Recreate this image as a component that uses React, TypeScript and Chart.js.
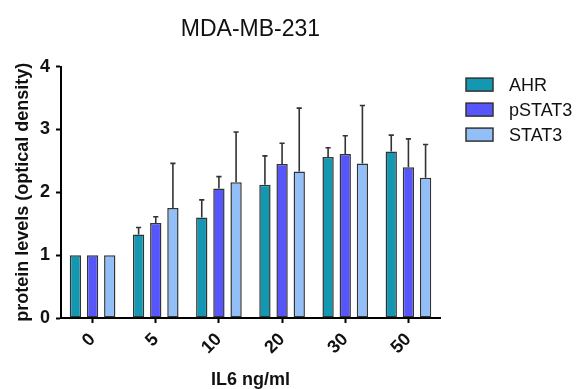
import { useEffect, useRef } from "react";
import { Chart, registerables } from "chart.js";

Chart.register(...registerables);

const categories = ["0", "5", "10", "20", "30", "50"];
const seriesNames = ["AHR", "pSTAT3", "STAT3"];
const ahrValues = [1.0, 1.33, 1.6, 2.12, 2.56, 2.65];
const ahrErrors = [0, 0.11, 0.28, 0.46, 0.15, 0.26];
const pstat3Values = [1.0, 1.51, 2.06, 2.45, 2.61, 2.4];
const pstat3Errors = [0, 0.1, 0.19, 0.33, 0.29, 0.45];
const stat3Values = [1.0, 1.75, 2.16, 2.33, 2.46, 2.23];
const stat3Errors = [0, 0.71, 0.8, 1.01, 0.92, 0.53];
const yTicks = [0, 1, 2, 3, 4];
const colors = ["#1497B1", "#5656FA", "#92BFF7"];

const FONT = "'Liberation Sans', Arial, sans-serif";

const errorBarPlugin = {
  id: "errorBars",
  afterDatasetsDraw(chart: any) {
    const ctx = chart.ctx;
    const yScale = chart.scales.y;
    chart.data.datasets.forEach((ds: any, i: number) => {
      const meta = chart.getDatasetMeta(i);
      meta.data.forEach((bar: any, j: number) => {
        const e = ds.errors[j];
        if (!e) return;
        const v = ds.data[j];
        const yTop = yScale.getPixelForValue(v);
        const yErr = yScale.getPixelForValue(v + e);
        ctx.save();
        ctx.strokeStyle = "#333";
        ctx.lineWidth = 1.6;
        ctx.beginPath();
        ctx.moveTo(bar.x, yTop);
        ctx.lineTo(bar.x, yErr);
        ctx.moveTo(bar.x - 2.6, yErr);
        ctx.lineTo(bar.x + 2.6, yErr);
        ctx.stroke();
        ctx.restore();
      });
    });
  },
};

const legendPlugin = {
  id: "sideLegend",
  afterDraw(chart: any) {
    const ctx = chart.ctx;
    const area = chart.chartArea;
    const x0 = area.right + 26;
    const y0 = area.top + 18;
    ctx.save();
    chart.data.datasets.forEach((ds: any, i: number) => {
      const cy = y0 + i * 25;
      ctx.fillStyle = ds.backgroundColor;
      ctx.fillRect(x0, cy - 6.5, 27, 13);
      ctx.strokeStyle = "#333";
      ctx.lineWidth = 1.5;
      ctx.strokeRect(x0, cy - 6.5, 27, 13);
      ctx.fillStyle = "#111";
      ctx.font = `18px ${FONT}`;
      ctx.textBaseline = "middle";
      ctx.textAlign = "left";
      ctx.fillText(ds.label, x0 + 43, cy + 1);
    });
    ctx.restore();
  },
};

export default function App() {
  const ref = useRef<HTMLCanvasElement>(null);
  useEffect(() => {
    if (!ref.current) return;
    const values = [ahrValues, pstat3Values, stat3Values];
    const errors = [ahrErrors, pstat3Errors, stat3Errors];
    const chart = new Chart(ref.current, {
      type: "bar",
      data: {
        labels: categories,
        datasets: seriesNames.map((name, i) => ({
          label: name,
          data: values[i],
          errors: errors[i],
          backgroundColor: colors[i],
          borderColor: "#333",
          borderWidth: 1.5,
          borderSkipped: false,
          categoryPercentage: 0.815,
          barPercentage: 0.66,
        })) as any,
      },
      options: {
        animation: false,
        responsive: true,
        maintainAspectRatio: false,
        layout: { padding: { left: 0, right: 142, top: 0, bottom: 0 } },
        plugins: {
          legend: { display: false },
          tooltip: { enabled: false },
          title: {
            display: true,
            text: "MDA-MB-231",
            fullSize: false,
            color: "#111",
            font: { family: FONT, size: 23, weight: "normal", lineHeight: 1.2 },
            padding: { top: 16, bottom: 23 },
          },
        },
        scales: {
          x: {
            afterFit: (s: any) => {
              s.height = 71;
            },
            border: { display: true, color: "#000", width: 2 },
            grid: {
              display: true,
              drawOnChartArea: false,
              drawTicks: true,
              tickLength: 5,
              tickWidth: 2,
              tickColor: "#000",
              offset: false,
            },
            ticks: {
              color: "#111",
              font: { family: FONT, size: 18, weight: "bold" },
              minRotation: 45,
              maxRotation: 45,
              padding: 6,
            },
            title: {
              display: true,
              text: "IL6 ng/ml",
              color: "#111",
              font: { family: FONT, size: 18, weight: "bold", lineHeight: 1 },
              padding: { top: 0, bottom: 0 },
            },
          },
          y: {
            min: 0,
            max: 4,
            afterFit: (s: any) => {
              s.width = 61;
            },
            afterBuildTicks: (s: any) => {
              s.ticks = yTicks.map((v) => ({ value: v }));
            },
            border: { display: true, color: "#000", width: 2 },
            grid: {
              display: true,
              drawOnChartArea: false,
              drawTicks: true,
              tickLength: 5,
              tickWidth: 2,
              tickColor: "#000",
            },
            ticks: {
              color: "#111",
              font: { family: FONT, size: 18, weight: "bold" },
              padding: 6,
            },
            title: {
              display: true,
              text: "protein levels (optical density)",
              color: "#111",
              font: { family: FONT, size: 18, weight: "bold", lineHeight: 1 },
              padding: { top: 14, bottom: 0 },
            },
          },
        },
      },
      plugins: [errorBarPlugin, legendPlugin],
    });
    return () => chart.destroy();
  }, []);
  return (
    <div style={{ position: "fixed", left: 0, top: 0, width: 582, height: 389 }}>
      <canvas ref={ref} />
    </div>
  );
}
